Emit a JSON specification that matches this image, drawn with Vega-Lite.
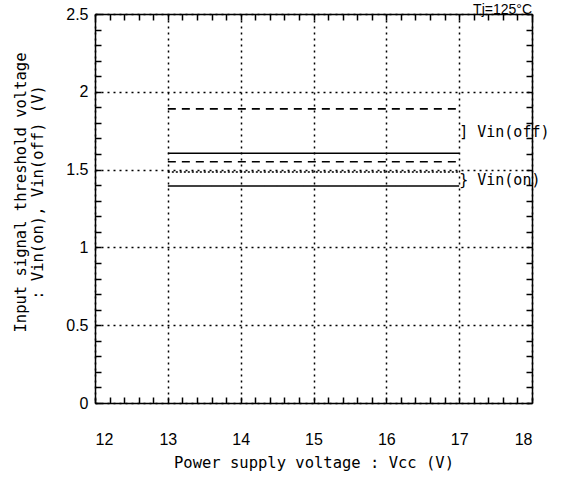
{
  "$schema": "https://vega.github.io/schema/vega-lite/v6.json",
  "width": 437,
  "height": 389,
  "autosize": {"type": "none"},
  "padding": {"left": 95, "top": 14, "right": 40, "bottom": 76},
  "background": "white",
  "title": {"text": "Tj=125°C", "anchor": "end", "frame": "group", "fontSize": 14, "font": "Liberation Sans", "fontWeight": "normal", "color": "black", "offset": 1, "dy": 12},
  "config": {"view": {"stroke": null}},
  "datasets": {
    "lines": [
      {"vcc": 13, "v": 1.89, "id": "off_max", "style": "dashed"},
      {"vcc": 17, "v": 1.89, "id": "off_max", "style": "dashed"},
      {"vcc": 13, "v": 1.605, "id": "off_min", "style": "solid"},
      {"vcc": 17, "v": 1.605, "id": "off_min", "style": "solid"},
      {"vcc": 13, "v": 1.55, "id": "on_max", "style": "dashed"},
      {"vcc": 17, "v": 1.55, "id": "on_max", "style": "dashed"},
      {"vcc": 13, "v": 1.485, "id": "on_typ", "style": "dotted"},
      {"vcc": 17, "v": 1.485, "id": "on_typ", "style": "dotted"},
      {"vcc": 13, "v": 1.395, "id": "on_min", "style": "solid"},
      {"vcc": 17, "v": 1.395, "id": "on_min", "style": "solid"}
    ],
    "labels": [
      {"vcc": 17.0, "v": 1.74, "text": "] Vin(off)"},
      {"vcc": 17.0, "v": 1.435, "text": "} Vin(on)"}
    ]
  },
  "layer": [
    {
      "data": {"name": "lines"},
      "mark": {"type": "line", "color": "black", "strokeWidth": 1.6},
      "encoding": {
        "x": {
          "field": "vcc", "type": "quantitative",
          "scale": {"domain": [12, 18], "nice": false, "zero": false},
          "axis": {
            "orient": "bottom",
            "values": [12,12.2,12.4,12.6,12.8,13,13.2,13.4,13.6,13.8,14,14.2,14.4,14.6,14.8,15,15.2,15.4,15.6,15.8,16,16.2,16.4,16.6,16.8,17,17.2,17.4,17.6,17.8,18],
            "labelExpr": "datum.value % 1 == 0 ? toString(datum.value) : ''",
            "labelOverlap": false,
            "labelFont": "Liberation Sans", "labelFontSize": 16, "labelColor": "black", "labelPadding": 34,
            "grid": true, "gridColor": "black", "gridDash": [2, 4], "gridWidth": 1.5,
            "gridOpacity": {"condition": {"test": "datum.value % 1 == 0", "value": 1}, "value": 0},
            "tickSize": -6, "tickColor": "black", "tickWidth": 1.5,
            "domainColor": "black", "domainWidth": 1.5,
            "title": "Power supply voltage : Vcc (V)",
            "titleFont": "DejaVu Sans Mono", "titleFontSize": 15.5, "titleFontWeight": "normal", "titleColor": "black", "titlePadding": 8
          }
        },
        "y": {
          "field": "v", "type": "quantitative",
          "scale": {"domain": [0, 2.5], "nice": false, "zero": false},
          "axis": {
            "orient": "left",
            "values": [0,0.1,0.2,0.3,0.4,0.5,0.6,0.7,0.8,0.9,1,1.1,1.2,1.3,1.4,1.5,1.6,1.7,1.8,1.9,2,2.1,2.2,2.3,2.4,2.5],
            "labelExpr": "(datum.value * 2) % 1 == 0 ? toString(datum.value) : ''",
            "labelOverlap": false,
            "labelFont": "Liberation Sans", "labelFontSize": 16, "labelColor": "black", "labelPadding": 13,
            "grid": true, "gridColor": "black", "gridDash": [2, 4], "gridWidth": 1.5,
            "gridOpacity": {"condition": {"test": "(datum.value * 2) % 1 == 0", "value": 1}, "value": 0},
            "tickSize": -6, "tickColor": "black", "tickWidth": 1.5,
            "domainColor": "black", "domainWidth": 1.5,
            "title": ["Input signal threshold voltage", ": Vin(on), Vin(off)  (V)"],
            "titleFont": "DejaVu Sans Mono", "titleFontSize": 15.5, "titleFontWeight": "normal", "titleColor": "black", "titlePadding": 20, "titleLineHeight": 17,
            "titleY": 178
          }
        },
        "detail": {"field": "id"},
        "strokeDash": {
          "field": "style", "type": "nominal",
          "scale": {"domain": ["solid", "dashed", "dotted"], "range": [[1, 0], [8, 6], [2, 2]]},
          "legend": null
        }
      }
    },
    {
      "data": {"name": "labels"},
      "mark": {"type": "text", "align": "left", "baseline": "middle", "font": "DejaVu Sans Mono", "fontSize": 15, "color": "black", "clip": false},
      "encoding": {
        "x": {
          "field": "vcc", "type": "quantitative",
          "scale": {"domain": [12, 18], "nice": false, "zero": false},
          "axis": {
            "orient": "top",
            "values": [12,12.2,12.4,12.6,12.8,13,13.2,13.4,13.6,13.8,14,14.2,14.4,14.6,14.8,15,15.2,15.4,15.6,15.8,16,16.2,16.4,16.6,16.8,17,17.2,17.4,17.6,17.8,18],
            "labels": false, "grid": false, "title": null,
            "tickSize": -6, "tickColor": "black", "tickWidth": 1.5,
            "domainColor": "black", "domainWidth": 1.5
          }
        },
        "y": {
          "field": "v", "type": "quantitative",
          "scale": {"domain": [0, 2.5], "nice": false, "zero": false},
          "axis": {
            "orient": "right",
            "values": [0,0.1,0.2,0.3,0.4,0.5,0.6,0.7,0.8,0.9,1,1.1,1.2,1.3,1.4,1.5,1.6,1.7,1.8,1.9,2,2.1,2.2,2.3,2.4,2.5],
            "labels": false, "grid": false, "title": null,
            "tickSize": -6, "tickColor": "black", "tickWidth": 1.5,
            "domainColor": "black", "domainWidth": 1.5
          }
        },
        "text": {"field": "text"}
      }
    }
  ],
  "resolve": {"axis": {"x": "independent", "y": "independent"}}
}
